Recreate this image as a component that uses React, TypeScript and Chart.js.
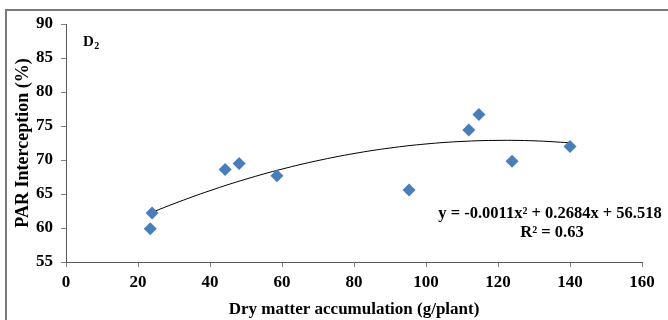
import React, { useEffect, useRef } from "react";
import { Chart, registerables } from "chart.js";

Chart.register(...registerables);

// Data
const dryMatter: number[] = [23.4, 23.9, 44.2, 48.1, 58.6, 95.3, 111.9, 114.7, 123.9, 140.0];
const parInterception: number[] = [59.9, 62.2, 68.6, 69.5, 67.7, 65.6, 74.4, 76.7, 69.8, 72.0];

// Trendline: polynomial (order 2) given on the chart: y = -0.0011x² + 0.2684x + 56.518
const trendCoeffs: number[] = [-0.0011, 0.2684, 56.518];
const trendX: number[] = [24, 30, 40, 50, 60, 70, 80, 90, 100, 110, 120, 130, 140];

const xTicks = { min: 0, max: 160, step: 20 };
const yTicks = { min: 55, max: 90, step: 5 };

const equationText = "y = -0.0011x² + 0.2684x + 56.518";
const r2Text = "R² = 0.63";
const panelLabel = "D";
const panelSub = "2";
const xTitle = "Dry matter accumulation (g/plant)";
const yTitle = "PAR Interception (%)";

const FONT = "'Liberation Serif', 'Times New Roman', serif";

export default function App() {
  const ref = useRef<HTMLCanvasElement | null>(null);

  useEffect(() => {
    if (!ref.current) return;
    const trend = trendX.map((x) => ({
      x,
      y: trendCoeffs[0] * x * x + trendCoeffs[1] * x + trendCoeffs[2],
    }));
    const pts = dryMatter.map((x, i) => ({ x, y: parInterception[i] }));

    const decor = {
      id: "decor",
      beforeDraw(chart: any) {
        const ctx = chart.ctx;
        ctx.save();
        ctx.fillStyle = "#ffffff";
        ctx.fillRect(0, 0, chart.width, chart.height);
        ctx.strokeStyle = "#7a7a7a";
        ctx.lineWidth = 2;
        ctx.strokeRect(6, 10, 700, 400);
        ctx.restore();
      },
      afterDraw(chart: any) {
        const ctx = chart.ctx;
        ctx.save();
        ctx.fillStyle = "#000";
        ctx.textBaseline = "alphabetic";
        ctx.textAlign = "left";
        ctx.font = `bold 15px ${FONT}`;
        ctx.fillText(panelLabel, 83, 46);
        const w = ctx.measureText(panelLabel).width;
        ctx.font = `bold 10px ${FONT}`;
        ctx.fillText(panelSub, 83 + w + 0.5, 49);
        ctx.font = `bold 16.5px ${FONT}`;
        ctx.textAlign = "center";
        ctx.fillText(equationText, 550, 218);
        ctx.fillText(r2Text, 552, 237);
        ctx.restore();
      },
    };

    const chart = new Chart(ref.current, {
      type: "scatter",
      data: {
        datasets: [
          {
            type: "line",
            label: "trend",
            data: trend,
            borderColor: "#000000",
            borderWidth: 1,
            pointRadius: 0,
            tension: 0.4,
            fill: false,
            order: 2,
          } as any,
          {
            label: "D2",
            data: pts,
            pointStyle: "rectRot",
            pointRadius: 6.5,
            backgroundColor: "#4a7ebb",
            borderColor: "#4a7ebb",
            borderWidth: 0,
            order: 1,
          },
        ],
      },
      options: {
        responsive: false,
        animation: false,
        maintainAspectRatio: false,
        layout: { padding: { top: 24, right: 26, left: 0, bottom: 0 } },
        plugins: {
          legend: { display: false },
          tooltip: { enabled: false },
        },
        scales: {
          x: {
            type: "linear",
            min: xTicks.min,
            max: xTicks.max,
            afterFit: (s: any) => {
              s.height = 58;
            },
            ticks: {
              stepSize: xTicks.step,
              color: "#000",
              padding: 5,
              font: { family: FONT, size: 17, weight: "bold" },
            },
            grid: {
              display: true,
              drawOnChartArea: false,
              drawTicks: true,
              tickLength: 5,
              color: "#7f7f7f",
            },
            border: { display: true, color: "#595959", width: 1 },
            title: {
              display: true,
              text: xTitle,
              color: "#000",
              font: { family: FONT, size: 17, weight: "bold" },
              padding: { top: 0, bottom: 0 },
            },
          },
          y: {
            type: "linear",
            min: yTicks.min,
            max: yTicks.max,
            afterFit: (s: any) => {
              s.width = 66;
            },
            ticks: {
              stepSize: yTicks.step,
              color: "#000",
              padding: 8,
              font: { family: FONT, size: 17, weight: "bold" },
            },
            grid: {
              display: true,
              drawOnChartArea: false,
              drawTicks: true,
              tickLength: 5,
              color: "#7f7f7f",
            },
            border: { display: true, color: "#595959", width: 1 },
            title: {
              display: true,
              text: yTitle,
              color: "#000",
              font: { family: FONT, size: 18, weight: "bold" },
              padding: { top: 13, bottom: 0 },
            },
          },
        },
      },
      plugins: [decor],
    });
    return () => chart.destroy();
  }, []);

  return (
    <div style={{ position: "fixed", left: 0, top: 0, width: 668, height: 320, overflow: "hidden" }}>
      <canvas ref={ref} width={668} height={320} style={{ width: 668, height: 320, display: "block" }} />
    </div>
  );
}
